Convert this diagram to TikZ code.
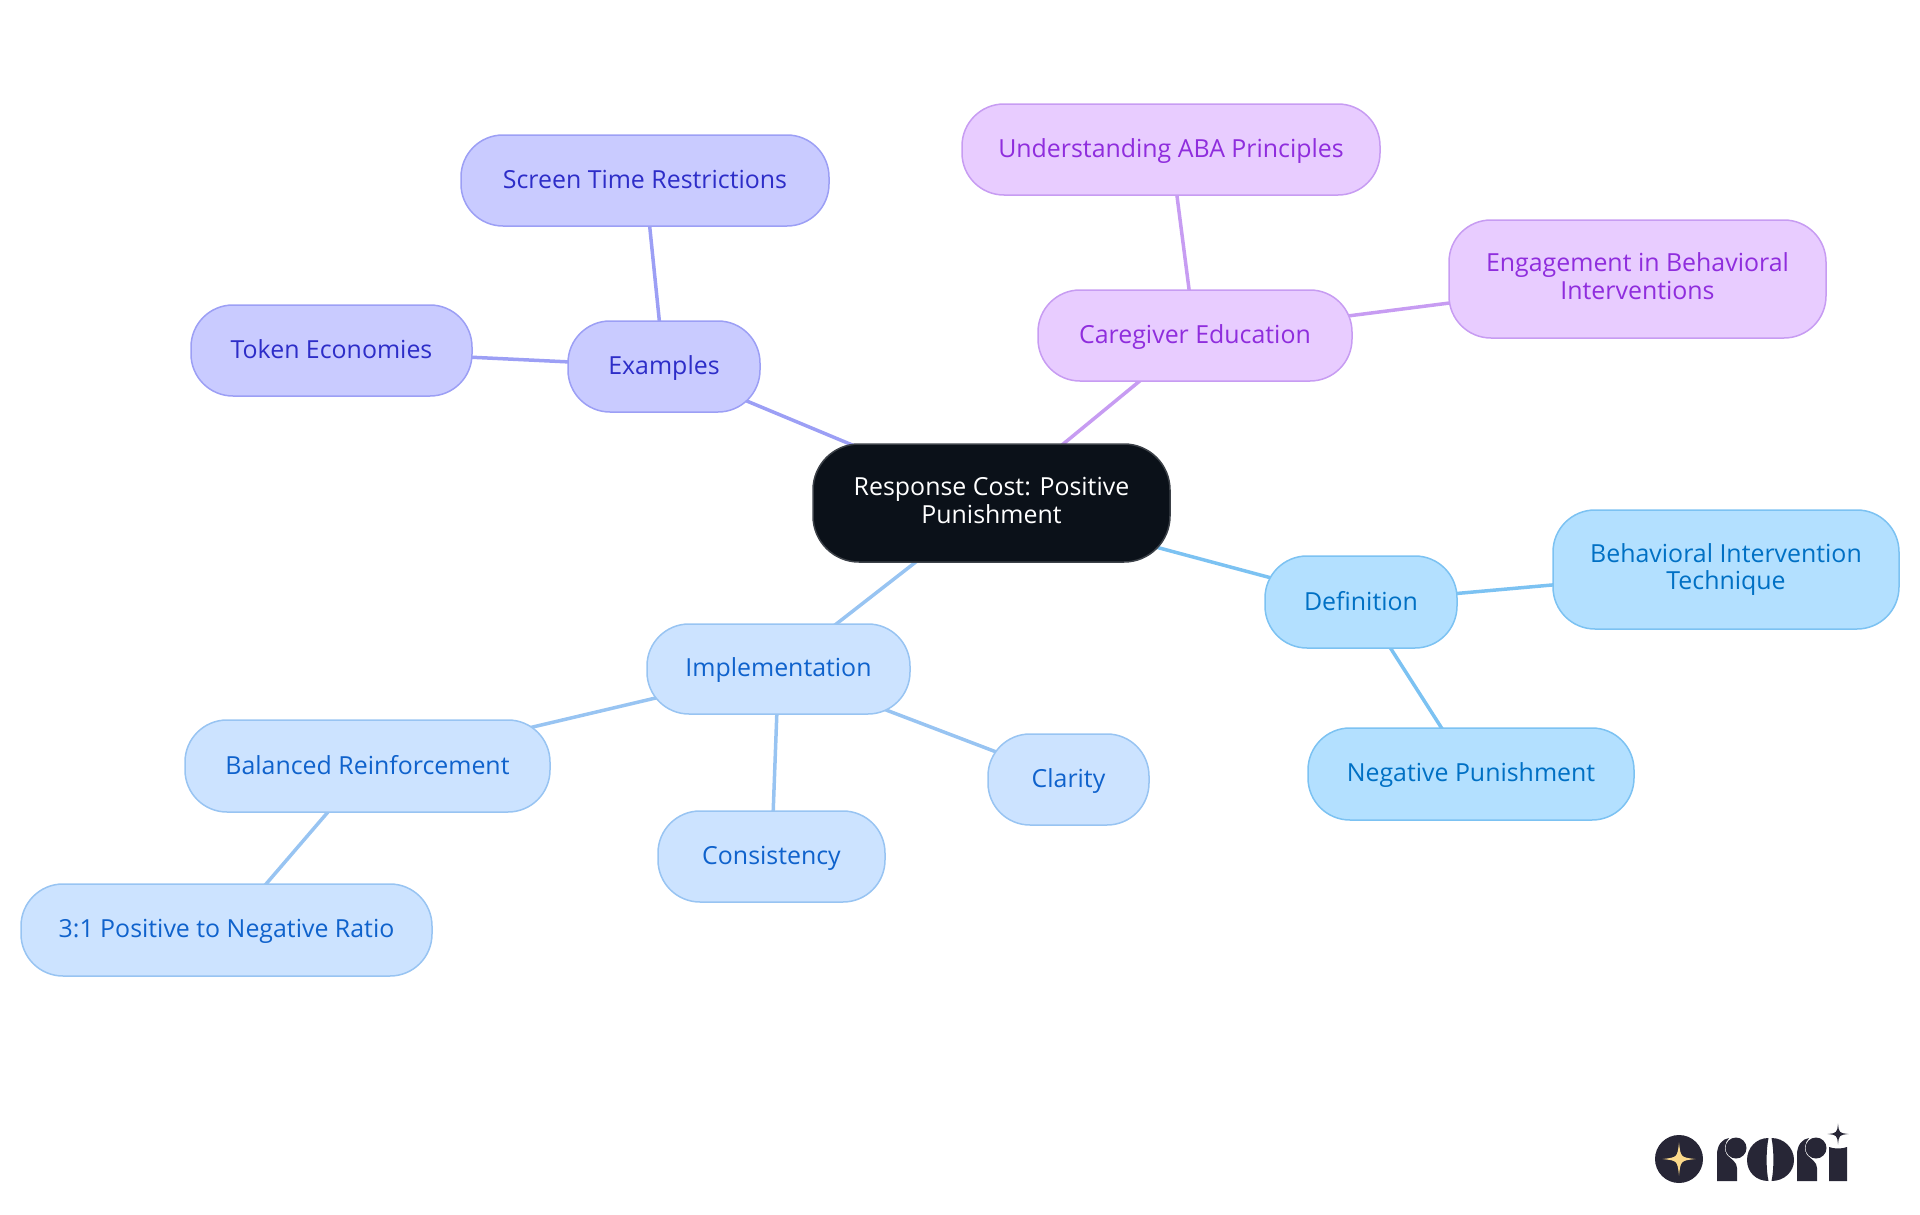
\documentclass[tikz,border=0pt]{standalone}
\usepackage{fontspec}
\setmainfont{Open Sans}
\usetikzlibrary{backgrounds}
\definecolor{rootfill}{HTML}{0B1119}
\definecolor{rootline}{HTML}{3C4148}
\definecolor{deffill}{HTML}{B3E0FF}
\definecolor{defline}{HTML}{7CC2F2}
\definecolor{deftext}{HTML}{0070C4}
\definecolor{impfill}{HTML}{CCE3FF}
\definecolor{impline}{HTML}{98C4F2}
\definecolor{imptext}{HTML}{0F62CC}
\definecolor{exafill}{HTML}{C9CBFF}
\definecolor{exaline}{HTML}{9C9FF5}
\definecolor{exatext}{HTML}{2D2DC8}
\definecolor{carefill}{HTML}{E8CCFF}
\definecolor{careline}{HTML}{C79CF2}
\definecolor{caretext}{HTML}{8F2DDD}
\definecolor{logodark}{HTML}{272636}
\definecolor{logostar}{HTML}{FBD98A}
\newcommand{\fourstar}[3]{%
  (#1,#2-#3) .. controls (#1+0.1*#3,#2-0.1*#3) .. (#1+#3,#2)
  .. controls (#1+0.1*#3,#2+0.1*#3) .. (#1,#2+#3)
  .. controls (#1-0.1*#3,#2+0.1*#3) .. (#1-#3,#2)
  .. controls (#1-0.1*#3,#2-0.1*#3) .. (#1,#2-#3) -- cycle}
\newcommand{\linestrutA}{\rule{0pt}{21.5pt}}
\newcommand{\linestrutB}{\rule[-5.5pt]{0pt}{5.5pt}}
\tikzset{
  box/.style={rectangle,rounded corners=42pt,inner sep=0pt,align=center,line width=1.5pt,
    font=\fontsize{24.9}{27.5}\selectfont,
    execute at begin node=\linestrutA, execute at end node=\linestrutB},
  rootbox/.style={box,rounded corners=46pt,fill=rootfill,draw=rootline,text=white},
  defbox/.style={box,fill=deffill,draw=defline,text=deftext},
  impbox/.style={box,fill=impfill,draw=impline,text=imptext},
  exabox/.style={box,fill=exafill,draw=exaline,text=exatext},
  carebox/.style={box,fill=carefill,draw=careline,text=caretext},
  link/.style={line width=3.5pt,line cap=butt},
}
\newcommand{\sizedbox}[7]{% style,name,x0,y0,x1,y1,text
  \node[#1,minimum width=#5-#3,minimum height=#6-#4] (#2) at ({(#3+#5)/2},{(#4+#6)/2}) {#7};}
\begin{document}
\begin{tikzpicture}[x=1pt,y=-1pt]
\useasboundingbox (0,0) rectangle (1920,1215);
\sizedbox{rootbox}{root}{813}{444}{1170}{562}{Response Cost: Positive\\Punishment}
\sizedbox{defbox}{definition}{1265}{556}{1457}{648}{Definition}
\sizedbox{defbox}{behavioral}{1553}{510}{1899}{629}{Behavioral Intervention\\Technique}
\sizedbox{defbox}{negative}{1308}{728}{1634}{820}{Negative Punishment}
\sizedbox{carebox}{caregiver}{1038}{290}{1352}{381}{Caregiver Education}
\sizedbox{carebox}{understanding}{962}{104}{1380}{195}{Understanding ABA Principles}
\sizedbox{carebox}{engagement}{1449}{220}{1826}{338}{Engagement in Behavioral\\Interventions}
\sizedbox{exabox}{examples}{568}{321}{760}{412}{Examples}
\sizedbox{exabox}{screen}{461}{135}{829}{226}{Screen Time Restrictions}
\sizedbox{exabox}{token}{191}{305}{472}{396}{Token Economies}
\sizedbox{impbox}{implementation}{647}{624}{910}{714}{Implementation}
\sizedbox{impbox}{clarity}{988}{734}{1149}{825}{Clarity}
\sizedbox{impbox}{consistency}{658}{811}{885}{902}{Consistency}
\sizedbox{impbox}{balanced}{185}{720}{550}{812}{Balanced Reinforcement}
\sizedbox{impbox}{ratio}{21}{884}{432}{976}{3:1 Positive to Negative Ratio}
\begin{scope}[on background layer]
  \draw[link,defline] (root.center) -- (definition.center);
  \draw[link,defline] (definition.center) -- (behavioral.center);
  \draw[link,defline] (definition.center) -- (negative.center);
  \draw[link,careline] (root.center) -- (caregiver.center);
  \draw[link,careline] (caregiver.center) -- (understanding.center);
  \draw[link,careline] (caregiver.center) -- (engagement.center);
  \draw[link,exaline] (root.center) -- (examples.center);
  \draw[link,exaline] (examples.center) -- (screen.center);
  \draw[link,exaline] (examples.center) -- (token.center);
  \draw[link,impline] (root.center) -- (implementation.center);
  \draw[link,impline] (implementation.center) -- (clarity.center);
  \draw[link,impline] (implementation.center) -- (consistency.center);
  \draw[link,impline] (implementation.center) -- (balanced.center);
  \draw[link,impline] (balanced.center) -- (ratio.center);
\end{scope}
% logo
\fill[logodark] (1679,1159) circle [radius=24];
\fill[logostar] \fourstar{1679}{1159}{16.5};
\fill[logodark] (1717,1181) -- (1717,1155) .. controls (1717,1145) and (1722,1139) .. (1729,1138)
  .. controls (1724,1143) and (1724,1151) .. (1727,1155) .. controls (1731,1159) and (1737,1162) .. (1737,1168) -- (1737,1181) -- cycle;
\fill[logodark] (1736,1148) circle [radius=10.5];
\fill[logodark] (1768.5,1138) .. controls (1756,1138) and (1747,1148) .. (1747,1160)
  .. controls (1747,1172) and (1756,1181) .. (1768.5,1181) .. controls (1766,1170) and (1766,1150) .. (1768.5,1138) -- cycle;
\fill[logodark] (1771.5,1138) .. controls (1784,1138) and (1794,1148) .. (1794,1160)
  .. controls (1794,1172) and (1784,1181) .. (1771.5,1181) .. controls (1774,1170) and (1774,1150) .. (1771.5,1138) -- cycle;
\fill[logodark] (1797,1181) -- (1797,1155) .. controls (1797,1145) and (1802,1139) .. (1809,1138)
  .. controls (1804,1143) and (1804,1151) .. (1807,1155) .. controls (1811,1159) and (1817,1162) .. (1817,1168) -- (1817,1181) -- cycle;
\fill[logodark] (1816,1148) circle [radius=10.5];
\fill[logodark] (1829,1181) -- (1829,1147) .. controls (1834,1149) and (1842,1149) .. (1847,1147) -- (1847,1181) -- cycle;
\fill[logodark] \fourstar{1838}{1134}{10.5};
\end{tikzpicture}
\end{document}
